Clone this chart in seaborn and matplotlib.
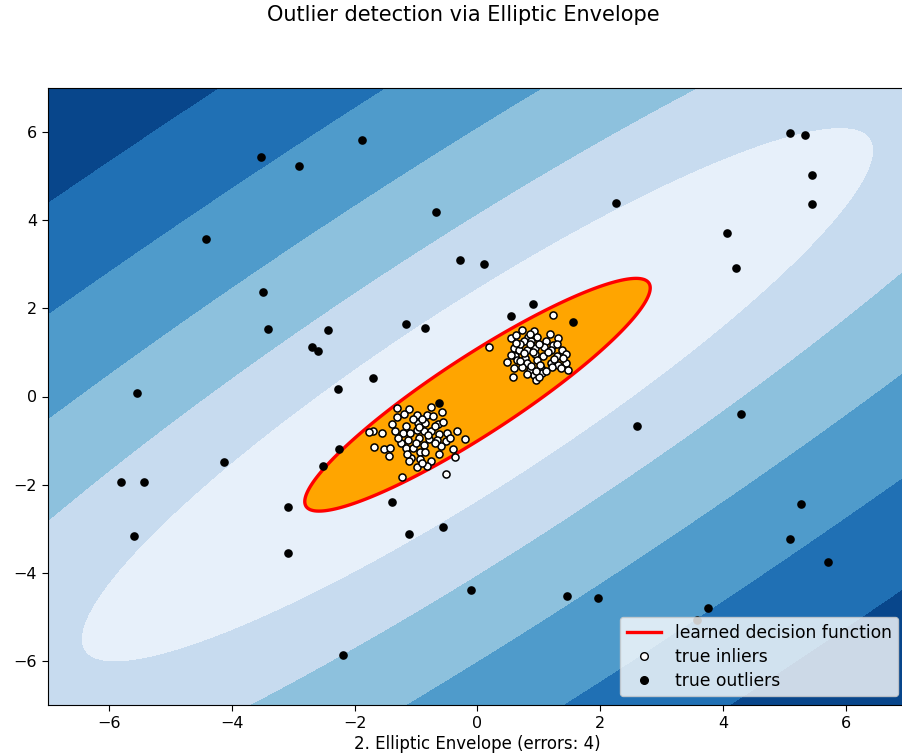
import numpy as np
import pandas as pd
import matplotlib
matplotlib.use("Agg")
import matplotlib.pyplot as plt
import seaborn as sns
from matplotlib.lines import Line2D

# ---------------- data ----------------
outlier_x = [-2.91, -3.53, -1.89, -0.68, -4.43, -3.50, -3.42, -2.44, -2.70, -2.60,
             -1.71, -2.28, -5.55, -1.17, -0.85, -0.29, 0.10, -0.63, 0.54, 0.91,
             1.55, 2.25, 4.07, 4.21, 5.09, 5.34, 5.45, 5.45, 4.30, 2.60,
             -0.11, 1.46, 1.97, 3.76, 3.57, 5.27, 5.09, 5.71, -2.20, -3.09,
             -3.09, -5.81, -5.44, -5.60, -4.13, -2.26, -2.52, -1.40, -1.12, -0.57]
outlier_y = [5.22, 5.43, 5.83, 4.18, 3.57, 2.37, 1.53, 1.51, 1.12, 1.03,
             0.42, 0.17, 0.08, 1.64, 1.55, 3.09, 3.00, -0.14, 1.82, 2.09,
             1.69, 4.38, 3.70, 2.91, 5.97, 5.94, 5.02, 4.36, -0.39, -0.66,
             -4.40, -4.53, -4.58, -4.81, -5.07, -2.43, -3.23, -3.75, -5.87, -2.51,
             -3.54, -1.93, -1.93, -3.17, -1.49, -1.20, -1.57, -2.40, -3.13, -2.97]

inlier_x = [-1.31, -1.11, -0.76, -1.31, -0.98, -0.83, -1.16, -0.97, -0.86, -0.65,
            -0.56, -1.71, -1.55, -1.35, -1.21, -0.99, -0.87, -0.75, -0.63, -0.50,
            -0.33, -0.20, -1.13, -0.96, -0.79, -0.66, -0.52, -1.24, -1.69, -1.52,
            -1.42, -1.17, -1.05, -0.87, -0.60, -0.93, -1.09, -0.93, -0.76, -0.36,
            -1.12, -0.99, -0.82, -0.52, -1.23, -1.77,
            -1.05, -0.90, -0.72, -1.10, -0.80, -0.70, -1.00, -1.30, -0.85, -0.62,
            -1.15, -0.95, -0.45, -1.40, -0.70, -1.20, -0.90, -0.40, -1.45, -0.58,
            0.18, 1.23, 0.54, 0.63, 0.73, 0.83, 0.92, 0.97, 0.75, 0.88,
            1.11, 1.32, 0.59, 0.67, 0.81, 0.94, 1.08, 1.23, 1.19, 1.38,
            1.45, 0.61, 0.78, 0.93, 1.07, 1.30, 0.48, 0.65, 0.81, 0.97,
            1.19, 1.32, 1.44, 0.59, 0.73, 0.86, 1.03, 1.22, 1.36, 1.48,
            0.92, 1.05, 0.58, 0.96,
            0.70, 0.85, 1.00, 1.15, 0.90, 0.75, 1.25, 1.02, 0.88, 0.70,
            1.12, 0.80, 1.40, 0.62, 1.00, 0.86, 1.18, 0.55, 1.30, 0.95]
inlier_y = [-0.26, -0.29, -0.23, -0.47, -0.41, -0.41, -0.66, -0.59, -0.60, -0.62,
            -0.57, -0.79, -0.83, -0.78, -0.83, -0.77, -0.79, -0.79, -0.84, -0.82,
            -0.78, -0.96, -0.98, -0.94, -0.96, -0.98, -1.02, -1.05, -1.15, -1.19,
            -1.17, -1.17, -1.17, -1.09, -1.12, -1.27, -1.39, -1.42, -1.47, -1.38,
            -1.47, -1.60, -1.58, -1.75, -1.82, -0.80,
            -0.50, -0.52, -0.45, -0.82, -0.88, -1.05, -1.05, -0.95, -1.25, -1.30,
            -1.30, -0.70, -0.95, -0.62, -0.68, -0.40, -1.50, -1.20, -1.35, -0.35,
            1.13, 1.84, 1.32, 1.40, 1.51, 1.36, 1.49, 1.36, 1.25, 1.25,
            1.27, 1.32, 1.10, 1.06, 1.06, 1.10, 1.13, 1.17, 1.06, 1.06,
            0.97, 0.91, 0.87, 0.97, 0.91, 0.91, 0.79, 0.82, 0.76, 0.83,
            0.77, 0.72, 0.77, 0.64, 0.68, 0.60, 0.64, 0.67, 0.64, 0.59,
            0.49, 0.53, 0.44, 0.38,
            1.20, 1.18, 1.20, 1.00, 1.02, 0.98, 0.85, 0.72, 0.70, 0.80,
            0.58, 0.52, 0.88, 1.22, 0.45, 1.42, 1.42, 0.95, 1.18, 0.58]

# fitted robust-covariance envelope (center, orientation, threshold half-axes)
env_center = [0.0, 0.04]
env_angle_deg = 43.0
env_half_axes = [3.78, 0.78]

legend_labels = ["learned decision function", "true inliers", "true outliers"]
title_text = "Outlier detection via Elliptic Envelope"
xlabel_text = "2. Elliptic Envelope (errors: 4)"
ticks = [-6, -4, -2, 0, 2, 4, 6]

# ---------------- decision function on a grid ----------------
xx, yy = np.meshgrid(np.linspace(-7, 7, 500), np.linspace(-7, 7, 500))
th = np.deg2rad(env_angle_deg)
dx = xx - env_center[0]
dy = yy - env_center[1]
u = dx * np.cos(th) + dy * np.sin(th)
v = -dx * np.sin(th) + dy * np.cos(th)
mahal = u ** 2 / env_half_axes[0] ** 2 + v ** 2 / env_half_axes[1] ** 2
Z = 1.0 ** 0.33 - mahal ** 0.33
threshold = 0.0

# ---------------- figure ----------------
fig = plt.figure(figsize=(9.02, 7.54), dpi=100)
ax = fig.add_axes([48 / 902, 1 - 705 / 754, (907 - 48) / 902, (705 - 88) / 754])

ax.contourf(xx, yy, Z, levels=np.linspace(Z.min(), threshold, 7), cmap=plt.cm.Blues_r)
ax.contourf(xx, yy, Z, levels=[threshold, Z.max()], colors="orange")
ax.contour(xx, yy, Z, levels=[threshold], linewidths=2.4, colors="red")

df_in = pd.DataFrame({"x": inlier_x, "y": inlier_y})
df_out = pd.DataFrame({"x": outlier_x, "y": outlier_y})
sns.scatterplot(data=df_in, x="x", y="y", ax=ax, color="white", s=26,
                edgecolor="black", linewidth=1.1, zorder=3)
sns.scatterplot(data=df_out, x="x", y="y", ax=ax, color="black", s=26,
                edgecolor="black", linewidth=1.1, zorder=3)

ax.set_xlim(-7, 7)
ax.set_ylim(-7, 7)
ax.set_xticks(ticks)
ax.set_yticks(ticks)
ax.tick_params(labelsize=11.5, length=4.5)
ax.set_xlabel(xlabel_text, fontsize=12)
ax.xaxis.labelpad = 3
ax.set_ylabel("")

handles = [
    Line2D([0], [0], color="red", lw=2.4),
    Line2D([0], [0], marker="o", color="none", markerfacecolor="white",
           markeredgecolor="black", markersize=5.5),
    Line2D([0], [0], marker="o", color="none", markerfacecolor="black",
           markeredgecolor="black", markersize=5.5),
]
ax.legend(handles, legend_labels, loc="lower right", prop={"size": 12.3},
          labelspacing=0.35)

fig.text(463 / 902, 1 - 15 / 754, title_text, ha="center", va="center", fontsize=15)

fig.savefig("out.png", dpi=100)
